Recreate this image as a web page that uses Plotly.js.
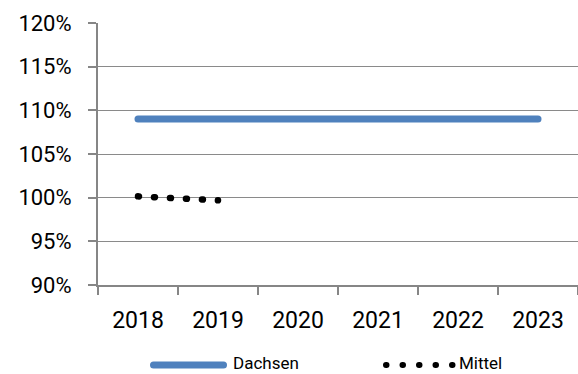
<!DOCTYPE html>
<html>
<head>
<meta charset="utf-8">
<script src="https://cdn.plot.ly/plotly-3.0.1.min.js"></script>
<style>
  html, body { margin: 0; padding: 0; background: #fff; }
  #chart { width: 578px; height: 374px; }
  /* rounded ends for the lines and the dotted series */
  .scatterlayer .js-line, .shapelayer path { stroke-linecap: round; }
</style>
</head>
<body>
<div id="chart"></div>
<script>
// Years on the category axis
const years = ['2018', '2019', '2020', '2021', '2022', '2023'];
// Series values in percent
const dachsen = [109, 109, 109, 109, 109, 109];
const mittelYears = ['2018', '2019'];
const mittel = [100.15, 99.7];
// Legend entries
const legendNames = ['Dachsen', 'Mittel'];

const blue = '#4F81BD';
const axisGrey = '#868686';
const fontFamily = 'Roboto, "Liberation Sans", sans-serif';

const traces = [
  {
    x: years, y: dachsen, name: legendNames[0], type: 'scatter', mode: 'lines',
    line: { color: blue, width: 7 }, hoverinfo: 'skip'
  },
  {
    x: mittelYears, y: mittel, name: legendNames[1], type: 'scatter', mode: 'lines',
    line: { color: '#000', width: 6.5, dash: '1px,15px' }, hoverinfo: 'skip'
  }
];

// plot area spans x 98..578, y 23..285 in page pixels
const L = 98, T = 23, W = 480, H = 262;
const px = (x) => (x - L) / W;
const py = (y) => (T + H - y) / H;
const legY = py(365);
const legTextY = py(363);

const layout = {
  width: 578, height: 374,
  margin: { l: L, r: 0, t: T, b: 374 - T - H, pad: 0 },
  paper_bgcolor: '#fff', plot_bgcolor: '#fff',
  showlegend: false,
  font: { family: fontFamily, color: '#000', size: 23 },
  xaxis: {
    type: 'category', range: [-0.5, 5.5], fixedrange: true,
    showline: true, linecolor: axisGrey, linewidth: 2,
    ticks: 'outside', tickson: 'boundaries', ticklen: 8, tickwidth: 2, tickcolor: axisGrey,
    showgrid: false, zeroline: false,
    ticklabelstandoff: 13,
    tickfont: { family: fontFamily, size: 23, color: '#000' }
  },
  yaxis: {
    range: [90, 120], dtick: 5, tick0: 90, ticksuffix: '%', fixedrange: true,
    showline: true, linecolor: axisGrey, linewidth: 2,
    ticks: 'outside', ticklen: 8, tickwidth: 2, tickcolor: axisGrey,
    showgrid: true, gridcolor: '#8a8a8a', gridwidth: 1, zeroline: false,
    ticklabelstandoff: 12,
    tickfont: { family: fontFamily, size: 22, color: '#000' }
  },
  shapes: [
    { type: 'line', xref: 'paper', yref: 'paper', x0: px(153.5), x1: px(223.5), y0: legY, y1: legY,
      line: { color: blue, width: 7 } },
    { type: 'line', xref: 'paper', yref: 'paper', x0: px(386), x1: px(452.5), y0: legY, y1: legY,
      line: { color: '#000', width: 6, dash: '0.5px,16px' } }
  ],
  annotations: [
    { xref: 'paper', yref: 'paper', x: px(232), y: legTextY, xanchor: 'left', yanchor: 'middle',
      borderpad: 0, text: legendNames[0], showarrow: false,
      font: { family: fontFamily, size: 17, color: '#000' } },
    { xref: 'paper', yref: 'paper', x: px(458), y: legTextY, xanchor: 'left', yanchor: 'middle',
      borderpad: 0, text: legendNames[1], showarrow: false,
      font: { family: fontFamily, size: 17, color: '#000' } }
  ]
};

Plotly.newPlot('chart', traces, layout, { displayModeBar: false, staticPlot: true });
</script>
</body>
</html>
